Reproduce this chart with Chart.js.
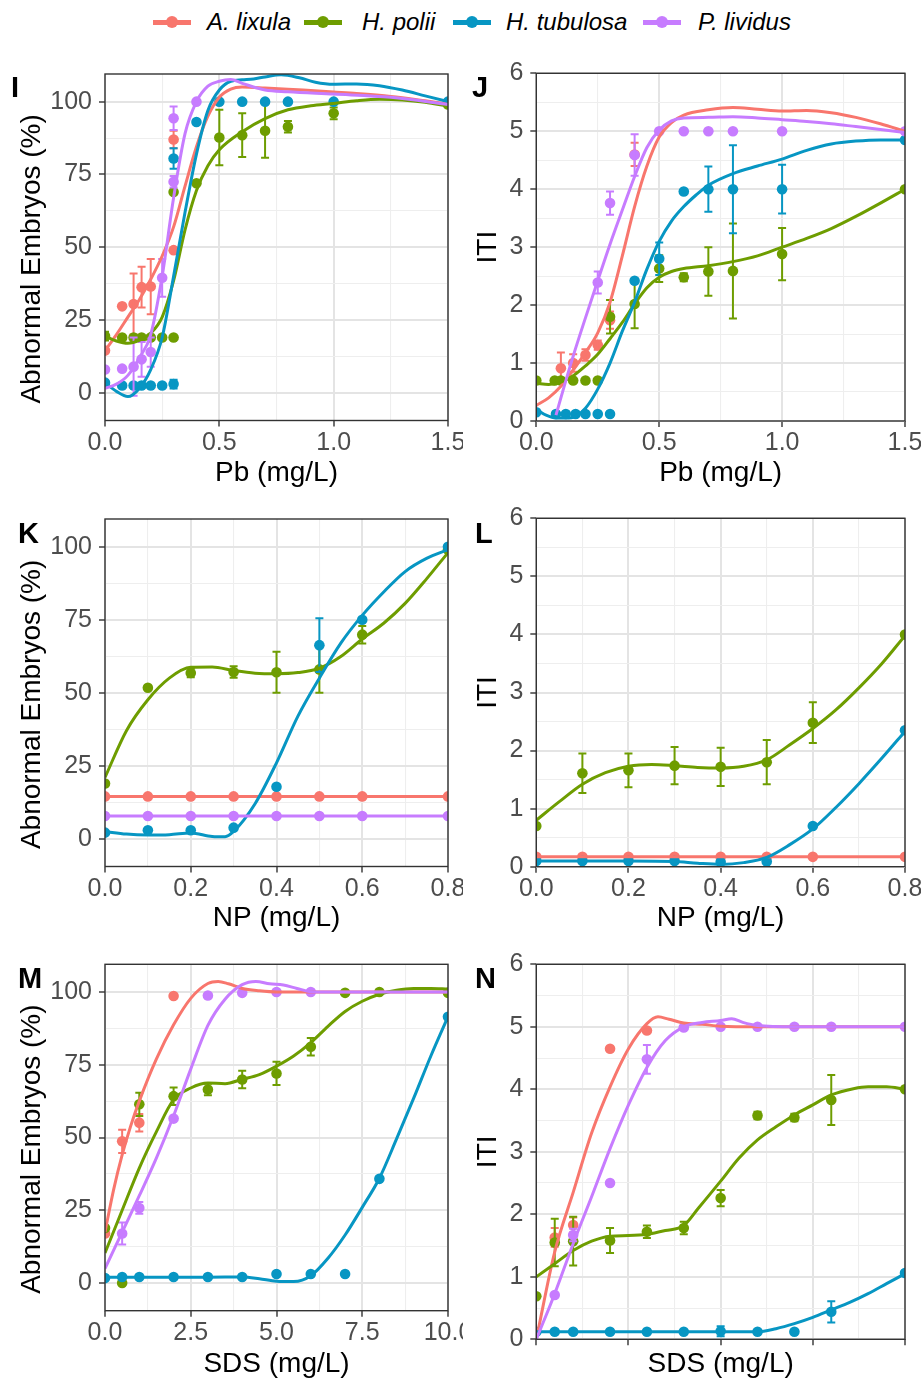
<!DOCTYPE html>
<html>
<head>
<meta charset="utf-8">
<script src="https://cdn.jsdelivr.net/npm/chart.js@4.4.1/dist/chart.umd.min.js"></script>
<style>
html,body{margin:0;padding:0;background:#ffffff;}
body{width:921px;height:1382px;position:relative;overflow:hidden;font-family:'Liberation Sans',Arial,Helvetica,sans-serif;}
canvas{position:absolute;}
.tag{position:absolute;font-weight:bold;font-size:29px;line-height:29px;color:#000;white-space:nowrap;}
.legtxt{position:absolute;font-style:italic;font-size:24px;line-height:24px;color:#000;white-space:nowrap;}
.legline{position:absolute;height:5px;}
.legdot{position:absolute;width:12px;height:12px;border-radius:50%;}
</style>
</head>
<body>
<div id="legend"></div>
<canvas id="cI" width="463" height="435" style="left:0px;top:55px"></canvas>
<canvas id="cJ" width="461" height="435" style="left:460px;top:55px"></canvas>
<canvas id="cK" width="463" height="435" style="left:0px;top:500px"></canvas>
<canvas id="cL" width="461" height="435" style="left:460px;top:500px"></canvas>
<canvas id="cM" width="463" height="437" style="left:0px;top:945px"></canvas>
<canvas id="cN" width="461" height="437" style="left:460px;top:945px"></canvas>
<div class="tag" style="left:11px;top:72.5px">I</div>
<div class="tag" style="left:472px;top:72.5px">J</div>
<div class="tag" style="left:18px;top:518.5px">K</div>
<div class="tag" style="left:475px;top:518.5px">L</div>
<div class="tag" style="left:18px;top:963.5px">M</div>
<div class="tag" style="left:475px;top:963.5px">N</div>
<script>
// ---------- categories ----------
const SPECIES = ['A. lixula', 'H. polii', 'H. tubulosa', 'P. lividus'];
const COLORS = ['#F8766D', '#6E9D00', '#0796C3', '#C77CFF'];

// ---------- tick labels ----------
const pctTicks = [0, 25, 50, 75, 100];
const pctMinor = [12.5, 37.5, 62.5, 87.5];
const pctLabels = ['0', '25', '50', '75', '100'];
const itiTicks = [0, 1, 2, 3, 4, 5, 6];
const itiMinor = [0.5, 1.5, 2.5, 3.5, 4.5, 5.5];
const itiLabels = ['0', '1', '2', '3', '4', '5', '6'];
const pbTicks = [0, 0.5, 1, 1.5];
const pbMinor = [0.25, 0.75, 1.25];
const pbLabels = ['0.0', '0.5', '1.0', '1.5'];
const npTicks = [0, 0.2, 0.4, 0.6, 0.8];
const npMinor = [0.1, 0.3, 0.5, 0.7];
const npLabels = ['0.0', '0.2', '0.4', '0.6', '0.8'];
const sdsTicks = [0, 2.5, 5, 7.5, 10];
const sdsMinor = [1.25, 3.75, 6.25, 8.75];
const sdsLabels = ['0.0', '2.5', '5.0', '7.5', '10.0'];
const sdsLabelsN = ['', '', '', '', ''];

// ---------- Panel I (Pb, abnormal embryos %) ----------
const I_lix_x = [0, 0.075, 0.125, 0.16, 0.2, 0.3, 0.3];
const I_lix_y = [14.5, 29.7, 30.5, 36.3, 36.5, 49, 87];
const I_lix_e = [0, 0, 10.5, 7, 9.5, 0, 3];
const I_lix_cx = [0, 0.05, 0.1, 0.15, 0.2, 0.25, 0.3, 0.35, 0.4, 0.45, 0.5, 0.55, 0.6, 0.7, 0.8, 0.9, 1.0, 1.1, 1.25, 1.4, 1.5];
const I_lix_cy = [14.5, 20, 26, 32, 39, 47, 57, 71, 84.5, 95, 101.5, 104.3, 105, 104.7, 104.3, 103.8, 103.3, 102.8, 101.8, 100.3, 99.2];
const I_pol_x = [0, 0.075, 0.125, 0.16, 0.2, 0.25, 0.3, 0.3, 0.4, 0.5, 0.6, 0.7, 0.8, 1.0, 1.5];
const I_pol_y = [19.5, 19, 19, 19, 19, 19, 19, 69, 72, 87.7, 88.5, 90, 91.4, 96, 99];
const I_pol_e = [1.5, 0, 0, 0, 0, 0, 0, 0, 0, 9.5, 7.5, 9.3, 2, 2, 0];
const I_pol_cx = [0, 0.05, 0.1, 0.15, 0.2, 0.25, 0.3, 0.35, 0.4, 0.45, 0.5, 0.6, 0.7, 0.8, 0.9, 1.0, 1.1, 1.2, 1.3, 1.4, 1.5];
const I_pol_cy = [19.5, 17.8, 17, 18, 20.5, 26, 38.5, 56, 69.5, 78, 83.5, 89.7, 94.2, 97.2, 98.6, 99.4, 100.3, 100.8, 100.6, 99.8, 98.5];
const I_tub_x = [0, 0.075, 0.125, 0.16, 0.2, 0.25, 0.3, 0.3, 0.4, 0.5, 0.6, 0.7, 0.8, 1.0, 1.5];
const I_tub_y = [3.5, 2.5, 2.5, 2.5, 2.5, 2.5, 3, 80.5, 93, 100, 100, 100, 100, 100, 100];
const I_tub_e = [0, 0, 0, 0, 0, 0, 1.5, 3.5, 0, 0, 0, 0, 0, 0, 0];
const I_tub_cx = [0, 0.05, 0.1, 0.15, 0.2, 0.25, 0.3, 0.35, 0.4, 0.45, 0.5, 0.55, 0.6, 0.65, 0.7, 0.77, 0.85, 0.92, 1.0, 1.1, 1.2, 1.3, 1.4, 1.5];
const I_tub_cy = [3.5, 0.5, -1.3, 1.5, 8, 19, 40, 62, 82, 97, 104, 107, 107.5, 107.8, 108.5, 109.2, 108.2, 106.7, 106, 106.1, 105.5, 104, 102, 100];
const I_liv_x = [0, 0.075, 0.125, 0.16, 0.2, 0.25, 0.3, 0.3, 0.4];
const I_liv_y = [8, 8.3, 9, 11.5, 14, 39.5, 72.5, 94.3, 100];
const I_liv_e = [0, 0, 10, 6, 5, 6.5, 2, 4, 0];
const I_liv_cx = [0, 0.05, 0.1, 0.15, 0.2, 0.25, 0.3, 0.35, 0.4, 0.45, 0.5, 0.55, 0.6, 0.7, 0.8, 1.0, 1.25, 1.5];
const I_liv_cy = [1.5, 3, 6, 12, 20, 40, 67, 89, 100, 105.3, 107, 107.6, 106.3, 104, 103.4, 102.6, 101.5, 99];

// ---------- Panel J (Pb, ITI) ----------
const J_lix_x = [0.1, 0.15, 0.2, 0.25, 0.3, 0.4];
const J_lix_y = [0.91, 1.0, 1.14, 1.31, 1.74, 4.6];
const J_lix_e = [0.27, 0.15, 0.1, 0.08, 0.15, 0.2];
const J_lix_cx = [0, 0.05, 0.1, 0.15, 0.2, 0.25, 0.3, 0.35, 0.4, 0.45, 0.5, 0.55, 0.6, 0.7, 0.8, 0.9, 1.0, 1.1, 1.2, 1.3, 1.4, 1.5];
const J_lix_cy = [0.27, 0.4, 0.6, 0.88, 1.18, 1.52, 2.05, 2.85, 3.7, 4.4, 4.9, 5.15, 5.28, 5.37, 5.41, 5.38, 5.35, 5.36, 5.32, 5.24, 5.13, 5.0];
const J_pol_x = [0, 0.075, 0.1, 0.15, 0.2, 0.25, 0.3, 0.4, 0.5, 0.6, 0.7, 0.8, 1.0, 1.5];
const J_pol_y = [0.7, 0.7, 0.7, 0.7, 0.7, 0.7, 1.8, 2.02, 2.63, 2.48, 2.58, 2.59, 2.88, 4.0];
const J_pol_e = [0, 0, 0, 0, 0, 0, 0.29, 0.42, 0.23, 0.07, 0.42, 0.82, 0.45, 0];
const J_pol_cx = [0, 0.05, 0.1, 0.15, 0.2, 0.25, 0.3, 0.35, 0.4, 0.45, 0.5, 0.55, 0.6, 0.7, 0.8, 0.9, 1.0, 1.1, 1.2, 1.3, 1.4, 1.5];
const J_pol_cy = [0.65, 0.63, 0.67, 0.78, 0.95, 1.15, 1.42, 1.7, 2.02, 2.3, 2.48, 2.58, 2.63, 2.68, 2.75, 2.85, 3.0, 3.15, 3.32, 3.53, 3.76, 4.0];
const J_tub_x = [0, 0.08, 0.12, 0.16, 0.2, 0.25, 0.3, 0.4, 0.5, 0.6, 0.7, 0.8, 1.0, 1.5];
const J_tub_y = [0.15, 0.12, 0.12, 0.12, 0.12, 0.12, 0.12, 2.42, 2.8, 3.96, 4.0, 4.0, 4.0, 4.85];
const J_tub_e = [0, 0, 0, 0, 0, 0, 0, 0, 0.28, 0, 0.39, 0.76, 0.42, 0];
const J_tub_cx = [0, 0.04, 0.08, 0.12, 0.16, 0.2, 0.25, 0.3, 0.35, 0.4, 0.45, 0.5, 0.55, 0.6, 0.65, 0.7, 0.8, 0.9, 1.0, 1.1, 1.2, 1.3, 1.4, 1.5];
const J_tub_cy = [0.2, 0.1, 0.05, 0.05, 0.08, 0.22, 0.55, 1.0, 1.55, 2.05, 2.62, 3.1, 3.45, 3.7, 3.9, 4.07, 4.27, 4.4, 4.52, 4.67, 4.78, 4.83, 4.85, 4.85];
const J_liv_x = [0.25, 0.3, 0.4, 0.5, 0.6, 0.7, 0.8, 1.0, 1.5];
const J_liv_y = [2.39, 3.76, 4.59, 5, 5, 5, 5, 5, 5];
const J_liv_e = [0.19, 0.2, 0.36, 0, 0, 0, 0, 0, 0];
const J_liv_cx = [0.08, 0.1, 0.15, 0.2, 0.25, 0.3, 0.35, 0.4, 0.45, 0.5, 0.55, 0.6, 0.7, 0.8, 0.9, 1.0, 1.1, 1.2, 1.3, 1.4, 1.5];
const J_liv_cy = [0.1, 0.4, 1.12, 1.78, 2.42, 3.05, 3.64, 4.22, 4.72, 5.02, 5.18, 5.23, 5.24, 5.25, 5.23, 5.2, 5.17, 5.13, 5.08, 5.03, 4.98];

// ---------- Panel K (NP, abnormal embryos %) ----------
const K_x = [0, 0.1, 0.2, 0.3, 0.4, 0.5, 0.6, 0.8];
const K_lix_y = [14.5, 14.5, 14.5, 14.5, 14.5, 14.5, 14.5, 14.5];
const K_pol_y = [18.9, 51.7, 56.8, 57.1, 57, 58, 69.9, 99];
const K_pol_e = [0, 0, 1.5, 2, 7, 8, 3, 0];
const K_tub_y = [2.1, 2.9, 2.9, 3.8, 17.8, 66.3, 75, 100];
const K_tub_e = [0, 0, 0, 0, 0, 9.2, 0, 0];
const K_liv_y = [7.8, 7.8, 7.8, 7.8, 7.8, 7.8, 7.8, 7.8];
const K_zero_e = [0, 0, 0, 0, 0, 0, 0, 0];
const K_lix_cx = [0, 0.4, 0.8];
const K_lix_cy = [14.5, 14.5, 14.5];
const K_liv_cx = [0, 0.4, 0.8];
const K_liv_cy = [7.8, 7.8, 7.8];
const K_pol_cx = [0, 0.05, 0.1, 0.15, 0.2, 0.25, 0.3, 0.35, 0.4, 0.45, 0.5, 0.55, 0.6, 0.65, 0.7, 0.75, 0.8];
const K_pol_cy = [21, 37, 47.6, 55, 58.7, 58.8, 57.6, 56.7, 56.5, 56.9, 58.4, 62.4, 68.4, 73.8, 80.6, 89, 98];
const K_tub_cx = [0, 0.05, 0.1, 0.15, 0.2, 0.25, 0.28, 0.3, 0.35, 0.4, 0.45, 0.5, 0.55, 0.6, 0.65, 0.7, 0.75, 0.8];
const K_tub_cy = [2.5, 1.6, 1.3, 1.4, 2.0, 0.8, 0.7, 2.5, 12, 26, 42, 55, 67, 76.5, 84.5, 91.5, 96, 99];

// ---------- Panel L (NP, ITI) ----------
const L_x = [0, 0.1, 0.2, 0.3, 0.4, 0.5, 0.6, 0.8];
const L_lix_y = [0.17, 0.17, 0.17, 0.17, 0.17, 0.17, 0.17, 0.17];
const L_pol_y = [0.7, 1.61, 1.66, 1.74, 1.72, 1.8, 2.48, 4.0];
const L_pol_e = [0, 0.34, 0.29, 0.32, 0.33, 0.38, 0.35, 0];
const L_tub_y = [0.1, 0.1, 0.1, 0.1, 0.08, 0.09, 0.7, 2.35];
const L_zero_e = [0, 0, 0, 0, 0, 0, 0, 0];
const L_lix_cx = [0, 0.4, 0.8];
const L_lix_cy = [0.17, 0.17, 0.17];
const L_pol_cx = [0, 0.05, 0.1, 0.15, 0.2, 0.25, 0.3, 0.35, 0.4, 0.45, 0.5, 0.55, 0.6, 0.65, 0.7, 0.75, 0.8];
const L_pol_cy = [0.8, 1.12, 1.42, 1.62, 1.73, 1.76, 1.74, 1.71, 1.7, 1.73, 1.84, 2.1, 2.38, 2.7, 3.08, 3.5, 3.98];
const L_tub_cx = [0, 0.1, 0.2, 0.3, 0.35, 0.4, 0.45, 0.5, 0.55, 0.6, 0.65, 0.7, 0.75, 0.8];
const L_tub_cy = [0.1, 0.1, 0.1, 0.09, 0.06, 0.04, 0.07, 0.16, 0.38, 0.65, 1.02, 1.43, 1.87, 2.33];

// ---------- Panel M (SDS, abnormal embryos %) ----------
const M_lix_x = [0, 0.5, 1, 2];
const M_lix_y = [17, 48.7, 55.1, 98.6];
const M_lix_e = [0, 4, 3, 0];
const M_lix_cx = [0, 0.25, 0.5, 0.75, 1, 1.5, 2, 2.5, 3, 3.3, 3.6, 4, 4.5, 5, 6, 7, 8, 9, 10];
const M_lix_cy = [17.5, 32, 44, 54, 62.5, 77, 88.7, 97.8, 102.9, 103.6, 102.8, 101.2, 100.4, 100, 100, 100, 100, 100, 100];
const M_pol_x = [0, 0.5, 1, 2, 3, 4, 5, 6, 7, 8, 10];
const M_pol_y = [18.9, 0, 61.4, 64.2, 66.5, 69.9, 72, 81.2, 99.7, 100, 99.7];
const M_pol_e = [0, 0, 4, 3, 2, 3, 4, 3, 0, 0, 0];
const M_pol_cx = [0, 0.5, 1, 1.5, 2, 2.5, 3, 3.5, 4, 4.5, 5, 5.5, 6, 6.5, 7, 7.5, 8, 8.5, 9, 9.5, 10];
const M_pol_cy = [10.3, 25, 39.5, 52, 63, 67, 68.7, 68.5, 70, 71.6, 74.5, 78, 82.6, 88.2, 93.3, 96.8, 99.2, 100.6, 101.2, 101.2, 101];
const M_tub_x = [0, 0.5, 1, 2, 3, 4, 5, 6, 7, 8, 10];
const M_tub_y = [1.7, 2.1, 2.1, 2.1, 2.1, 2.1, 3.1, 3.1, 3.1, 35.8, 91.5];
const M_tub_e = [0, 0, 0, 0, 0, 0, 0, 0, 0, 0, 0];
const M_tub_cx = [0, 1, 2, 3, 4, 4.5, 5, 5.5, 6, 6.5, 7, 7.5, 8, 8.5, 9, 9.5, 10];
const M_tub_cy = [2, 2, 2, 2, 2.1, 1.5, 0.6, 0.5, 2.5, 8.5, 16.5, 26, 36, 49.5, 63.5, 78, 91.5];
const M_liv_x = [0.5, 1, 2, 3, 4, 5, 6];
const M_liv_y = [17, 25.8, 56.5, 98.8, 99.7, 100, 100];
const M_liv_e = [3.8, 2, 0, 0, 0, 0, 0];
const M_liv_cx = [0, 0.5, 1, 1.5, 2, 2.5, 3, 3.5, 4, 4.4, 4.8, 5.2, 5.6, 6, 7, 8, 9, 10];
const M_liv_cy = [5, 17.5, 30, 43, 57.5, 73.5, 88.5, 97.5, 102.5, 103.6, 102.8, 102.4, 101.2, 100.1, 100, 100, 100, 100];

// ---------- Panel N (SDS, ITI) ----------
const N_lix_x = [0.5, 1, 2, 3];
const N_lix_y = [1.63, 1.83, 4.65, 4.94];
const N_lix_e = [0.15, 0.12, 0, 0];
const N_lix_cx = [0, 0.5, 1, 1.5, 2, 2.5, 3, 3.3, 3.6, 4, 4.5, 5, 6, 8, 10];
const N_lix_cy = [0, 1.4, 2.35, 3.3, 4.04, 4.65, 5.05, 5.16, 5.12, 5.06, 5.04, 5.01, 5.0, 5.0, 5.0];
const N_pol_x = [0, 0.5, 1, 2, 3, 4, 5, 6, 7, 8, 10];
const N_pol_y = [0.69, 1.55, 1.57, 1.58, 1.72, 1.78, 2.26, 3.58, 3.55, 3.83, 4.0];
const N_pol_e = [0, 0.38, 0.39, 0.2, 0.1, 0.1, 0.13, 0.06, 0.06, 0.4, 0];
const N_pol_cx = [0, 0.5, 1, 1.5, 2, 2.5, 3, 3.5, 4, 4.4, 5, 5.5, 6, 6.5, 7, 7.5, 8, 8.6, 9, 9.5, 10];
const N_pol_cy = [1.0, 1.21, 1.42, 1.57, 1.65, 1.66, 1.68, 1.74, 1.82, 2.1, 2.53, 2.9, 3.19, 3.4, 3.59, 3.75, 3.91, 4.01, 4.04, 4.04, 4.0];
const N_tub_x = [0, 0.5, 1, 2, 3, 4, 5, 6, 7, 8, 10];
const N_tub_y = [0.12, 0.12, 0.12, 0.12, 0.12, 0.12, 0.13, 0.12, 0.12, 0.44, 1.06];
const N_tub_e = [0, 0, 0, 0, 0, 0, 0.08, 0, 0, 0.17, 0];
const N_tub_cx = [0, 2, 4, 6, 6.5, 7, 7.5, 8, 8.5, 9, 9.5, 10];
const N_tub_cy = [0.12, 0.12, 0.12, 0.12, 0.17, 0.25, 0.35, 0.47, 0.59, 0.73, 0.89, 1.05];
const N_liv_x = [0.5, 1, 2, 3, 4, 5, 6, 7, 8, 10];
const N_liv_y = [0.71, 1.67, 2.5, 4.48, 4.99, 5, 5, 5, 5, 5];
const N_liv_e = [0, 0.1, 0, 0.23, 0, 0, 0, 0, 0, 0];
const N_liv_cx = [0, 0.5, 1, 1.5, 2, 2.5, 3, 3.5, 4, 4.5, 5, 5.3, 5.6, 6, 7, 8, 10];
const N_liv_cy = [0, 0.73, 1.53, 2.28, 3.05, 3.75, 4.35, 4.78, 5.0, 5.07, 5.1, 5.13, 5.07, 5.02, 5.0, 5.0, 5.0];

// ---------- rendering ----------
const FONT = "'Liberation Sans', Arial, Helvetica, sans-serif";
const TICK_COL = '#4D4D4D';
const AXIS_COL = '#333333';
const GRID_MAJ = '#E4E4E4';
const GRID_MIN = '#EEEEEE';

function sp(k, px, py, pe, cx, cy) {
  return { name: SPECIES[k], color: COLORS[k], k, px, py, pe, cx, cy };
}
function near(arr, v) { return arr.findIndex(a => Math.abs(a - v) < 1e-9); }

const errorBars = {
  id: 'errorBars',
  afterDatasetDraw(chart, args) {
    const ds = chart.data.datasets[args.index];
    if (!ds.errs) return;
    const { ctx, chartArea: ca, scales: { x, y } } = chart;
    ctx.save();
    ctx.beginPath();
    ctx.rect(ca.left, ca.top, ca.right - ca.left, ca.bottom - ca.top);
    ctx.clip();
    ctx.strokeStyle = ds.borderColor;
    ctx.lineWidth = 2;
    ds.data.forEach((p, i) => {
      const e = ds.errs[i];
      if (!e) return;
      const px = x.getPixelForValue(p.x);
      const y1 = y.getPixelForValue(p.y - e);
      const y2 = y.getPixelForValue(p.y + e);
      ctx.beginPath();
      ctx.moveTo(px, y1); ctx.lineTo(px, y2);
      ctx.moveTo(px - 4, y1); ctx.lineTo(px + 4, y1);
      ctx.moveTo(px - 4, y2); ctx.lineTo(px + 4, y2);
      ctx.stroke();
    });
    ctx.restore();
  }
};

const panelBorder = {
  id: 'panelBorder',
  afterDatasetsDraw(chart) {
    const { ctx, chartArea: ca } = chart;
    ctx.save();
    ctx.strokeStyle = AXIS_COL;
    ctx.lineWidth = 1.4;
    ctx.strokeRect(ca.left, ca.top, ca.right - ca.left, ca.bottom - ca.top);
    ctx.restore();
  }
};

function axis(pos, min, max, major, minor, labels, title, lay) {
  const isX = pos === 'bottom';
  return {
    type: 'linear', position: pos, min, max,
    afterBuildTicks: s => {
      s.ticks = major.concat(minor).sort((a, b) => a - b).map(v => ({ value: v }));
    },
    afterFit: s => {
      if (isX) { s.height = lay.xH; s.paddingLeft = 0; s.paddingRight = 0; }
      else { s.width = lay.yW; s.paddingTop = 0; s.paddingBottom = 0; }
    },
    ticks: {
      autoSkip: false, maxRotation: 0, minRotation: 0,
      padding: isX ? 1.2 : 7,
      color: TICK_COL,
      font: { family: FONT, size: 25 },
      callback: v => { const i = near(major, v); return i >= 0 ? labels[i] : ''; }
    },
    grid: {
      drawTicks: true, tickLength: 6, tickWidth: 1.4,
      color: c => (c.tick && near(major, c.tick.value) >= 0) ? GRID_MAJ : GRID_MIN,
      lineWidth: c => (c.tick && near(major, c.tick.value) >= 0) ? 2 : 1.1,
      tickColor: c => (c.tick && near(major, c.tick.value) >= 0) ? AXIS_COL : 'rgba(0,0,0,0)'
    },
    border: { display: false },
    title: {
      display: true, text: title, color: '#000000',
      font: { family: FONT, size: 28 },
      padding: isX ? { top: 0, bottom: lay.xTitlePad } : { top: lay.yTitlePad, bottom: 0 }
    }
  };
}

function buildChart(p) {
  const datasets = [];
  p.series.forEach(s => {
    if (!s.px) return;
    datasets.push({
      label: s.name, data: s.px.map((x, i) => ({ x, y: s.py[i] })), errs: s.pe,
      showLine: false, pointRadius: 5.3, pointHoverRadius: 5.3, pointBorderWidth: 0,
      pointBackgroundColor: s.color, backgroundColor: s.color, borderColor: s.color,
      clip: 0, order: 8 - s.k
    });
  });
  p.series.forEach(s => {
    datasets.push({
      label: s.name + ' fit', data: s.cx.map((x, i) => ({ x, y: s.cy[i] })),
      showLine: true, pointRadius: 0, pointHoverRadius: 0, borderColor: s.color, backgroundColor: s.color,
      borderWidth: 3, cubicInterpolationMode: 'monotone', fill: false, clip: 0, order: 4 - s.k
    });
  });
  new Chart(document.getElementById(p.id), {
    type: 'scatter',
    data: { datasets },
    options: {
      responsive: false, animation: false, events: [],
      layout: { padding: { top: p.lay.padTop, right: p.lay.padRight, left: 0, bottom: 0 } },
      plugins: { legend: { display: false }, tooltip: { enabled: false } },
      scales: {
        x: axis('bottom', p.xMin, p.xMax, p.xMajor, p.xMinor, p.xLabels, p.xTitle, p.lay),
        y: axis('left', p.yMin, p.yMax, p.yMajor, p.yMinor, p.yLabels, p.yTitle, p.lay)
      }
    },
    plugins: [errorBars, panelBorder]
  });
}

const PCT_TITLE = 'Abnormal Embryos (%)   ';
const LEFT = { padRight: 15, yW: 105, yTitlePad: 15.2 };
const RIGHT = { padRight: 16, yW: 76.3, yTitlePad: 11.5 };

const panels = [
  { id: 'cI', xMin: 0, xMax: 1.5, xMajor: pbTicks, xMinor: pbMinor, xLabels: pbLabels, xTitle: 'Pb (mg/L)',
    yMin: -9.5, yMax: 109.5, yMajor: pctTicks, yMinor: pctMinor, yLabels: pctLabels, yTitle: PCT_TITLE,
    lay: Object.assign({ padTop: 19, xH: 69.5, xTitlePad: 0 }, LEFT),
    series: [sp(0, I_lix_x, I_lix_y, I_lix_e, I_lix_cx, I_lix_cy), sp(1, I_pol_x, I_pol_y, I_pol_e, I_pol_cx, I_pol_cy),
             sp(2, I_tub_x, I_tub_y, I_tub_e, I_tub_cx, I_tub_cy), sp(3, I_liv_x, I_liv_y, I_liv_e, I_liv_cx, I_liv_cy)] },
  { id: 'cJ', xMin: 0, xMax: 1.5, xMajor: pbTicks, xMinor: pbMinor, xLabels: pbLabels, xTitle: 'Pb (mg/L)',
    yMin: 0, yMax: 6, yMajor: itiTicks, yMinor: itiMinor, yLabels: itiLabels, yTitle: 'ITI',
    lay: Object.assign({ padTop: 18.3, xH: 69, xTitlePad: 0 }, RIGHT),
    series: [sp(0, J_lix_x, J_lix_y, J_lix_e, J_lix_cx, J_lix_cy), sp(1, J_pol_x, J_pol_y, J_pol_e, J_pol_cx, J_pol_cy),
             sp(2, J_tub_x, J_tub_y, J_tub_e, J_tub_cx, J_tub_cy), sp(3, J_liv_x, J_liv_y, J_liv_e, J_liv_cx, J_liv_cy)] },
  { id: 'cK', xMin: 0, xMax: 0.8, xMajor: npTicks, xMinor: npMinor, xLabels: npLabels, xTitle: 'NP (mg/L)',
    yMin: -9.5, yMax: 109.5, yMajor: pctTicks, yMinor: pctMinor, yLabels: pctLabels, yTitle: PCT_TITLE,
    lay: Object.assign({ padTop: 19, xH: 68.5, xTitlePad: 0 }, LEFT),
    series: [sp(0, K_x, K_lix_y, K_zero_e, K_lix_cx, K_lix_cy), sp(1, K_x, K_pol_y, K_pol_e, K_pol_cx, K_pol_cy),
             sp(2, K_x, K_tub_y, K_tub_e, K_tub_cx, K_tub_cy), sp(3, K_x, K_liv_y, K_zero_e, K_liv_cx, K_liv_cy)] },
  { id: 'cL', xMin: 0, xMax: 0.8, xMajor: npTicks, xMinor: npMinor, xLabels: npLabels, xTitle: 'NP (mg/L)',
    yMin: 0, yMax: 6, yMajor: itiTicks, yMinor: itiMinor, yLabels: itiLabels, yTitle: 'ITI',
    lay: Object.assign({ padTop: 18.3, xH: 68.3, xTitlePad: 0 }, RIGHT),
    series: [sp(0, L_x, L_lix_y, L_zero_e, L_lix_cx, L_lix_cy), sp(1, L_x, L_pol_y, L_pol_e, L_pol_cx, L_pol_cy),
             sp(2, L_x, L_tub_y, L_zero_e, L_tub_cx, L_tub_cy)] },
  { id: 'cM', xMin: 0, xMax: 10, xMajor: sdsTicks, xMinor: sdsMinor, xLabels: sdsLabels, xTitle: 'SDS (mg/L)',
    yMin: -9.5, yMax: 109.5, yMajor: pctTicks, yMinor: pctMinor, yLabels: pctLabels, yTitle: PCT_TITLE,
    lay: Object.assign({ padTop: 19.3, xH: 71.3, xTitlePad: 0.7 }, LEFT),
    series: [sp(0, M_lix_x, M_lix_y, M_lix_e, M_lix_cx, M_lix_cy), sp(1, M_pol_x, M_pol_y, M_pol_e, M_pol_cx, M_pol_cy),
             sp(2, M_tub_x, M_tub_y, M_tub_e, M_tub_cx, M_tub_cy), sp(3, M_liv_x, M_liv_y, M_liv_e, M_liv_cx, M_liv_cy)] },
  { id: 'cN', xMin: 0, xMax: 10, xMajor: sdsTicks, xMinor: sdsMinor, xLabels: sdsLabelsN, xTitle: 'SDS (mg/L)',
    yMin: 0, yMax: 6, yMajor: itiTicks, yMinor: itiMinor, yLabels: itiLabels, yTitle: 'ITI',
    lay: Object.assign({ padTop: 19.3, xH: 42.7, xTitlePad: 1 }, RIGHT),
    series: [sp(0, N_lix_x, N_lix_y, N_lix_e, N_lix_cx, N_lix_cy), sp(1, N_pol_x, N_pol_y, N_pol_e, N_pol_cx, N_pol_cy),
             sp(2, N_tub_x, N_tub_y, N_tub_e, N_tub_cx, N_tub_cy), sp(3, N_liv_x, N_liv_y, N_liv_e, N_liv_cx, N_liv_cy)] }
];
panels.forEach(buildChart);

// ---------- legend ----------
const LEG_SYM_X = [153, 304, 453, 643];
const LEG_TXT_X = [207, 362, 506, 698];
const LEG_CY = 22;
const leg = document.getElementById('legend');
SPECIES.forEach((name, k) => {
  const line = document.createElement('div');
  line.className = 'legline';
  line.style.left = LEG_SYM_X[k] + 'px';
  line.style.top = (LEG_CY - 2.5) + 'px';
  line.style.width = '38px';
  line.style.background = COLORS[k];
  leg.appendChild(line);
  const dot = document.createElement('div');
  dot.className = 'legdot';
  dot.style.left = (LEG_SYM_X[k] + 19 - 6) + 'px';
  dot.style.top = (LEG_CY - 6) + 'px';
  dot.style.background = COLORS[k];
  leg.appendChild(dot);
  const t = document.createElement('div');
  t.className = 'legtxt';
  t.style.left = LEG_TXT_X[k] + 'px';
  t.style.top = (LEG_CY - 11.7) + 'px';
  t.textContent = name;
  leg.appendChild(t);
});
</script>
</body>
</html>
